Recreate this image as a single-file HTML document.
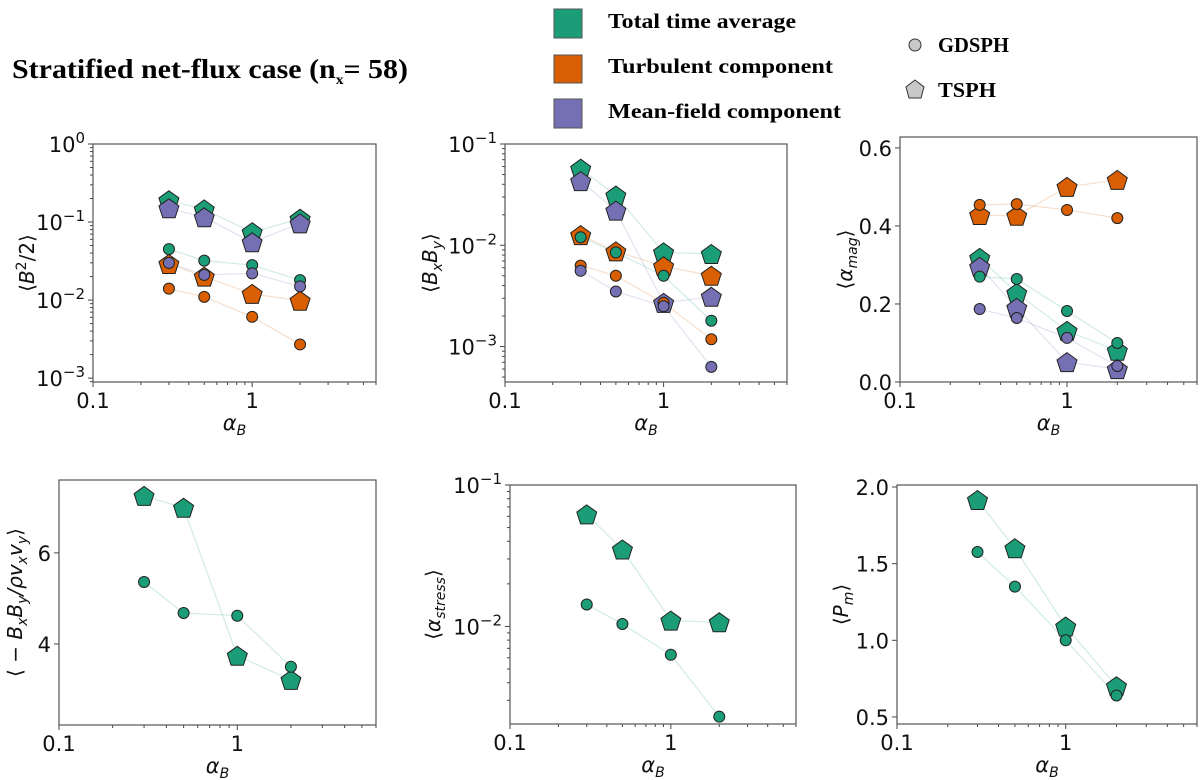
<!DOCTYPE html>
<html><head><meta charset="utf-8">
<style>
html,body{margin:0;padding:0;background:#fff;}
svg{display:block;font-family:"DejaVu Sans","Liberation Sans",sans-serif;}
.leg{font-family:"Liberation Serif",serif;font-weight:bold;}
</style></head>
<body>
<svg id="fig" width="1200" height="780" viewBox="0 0 1200 780" xmlns="http://www.w3.org/2000/svg">
  <text class="leg" x="12" y="78" font-size="27" textLength="396" lengthAdjust="spacingAndGlyphs">Stratified net-flux case (n<tspan font-size="14" dy="6">x</tspan><tspan dy="-6">= 58)</tspan></text>
  <g>
    <rect x="554" y="9" width="28" height="29" fill="#1b9e77" stroke="#555" stroke-width="1"/>
    <text class="leg" x="608" y="28" font-size="21" textLength="188" lengthAdjust="spacingAndGlyphs">Total time average</text>
    <rect x="554" y="55" width="28" height="28" fill="#d95f02" stroke="#555" stroke-width="1"/>
    <text class="leg" x="608" y="73" font-size="21" textLength="225" lengthAdjust="spacingAndGlyphs">Turbulent component</text>
    <rect x="554" y="99" width="28" height="29" fill="#7570b3" stroke="#555" stroke-width="1"/>
    <text class="leg" x="608" y="118" font-size="21" textLength="233" lengthAdjust="spacingAndGlyphs">Mean-field component</text>
    <circle cx="915" cy="45" r="6" fill="#c8c8c8" stroke="#333" stroke-width="1"/>
    <text class="leg" x="938" y="52" font-size="21" textLength="71" lengthAdjust="spacingAndGlyphs">GDSPH</text>
    <polygon points="915,80 924,87 921,98 909,98 906,87" fill="#c8c8c8" stroke="#333" stroke-width="1"/>
    <text class="leg" x="938" y="97" font-size="21" textLength="58" lengthAdjust="spacingAndGlyphs">TSPH</text>
  </g>
</svg>
<script>
const xVals = [0.3, 0.5, 1, 2];
// Panel 1: <B^2/2>
const p1TotT = [0.19, 0.145, 0.074, 0.11];
const p1MeanT = [0.15, 0.115, 0.055, 0.096];
const p1TurbT = [0.029, 0.020, 0.012, 0.0098];
const p1TotG = [0.045, 0.032, 0.028, 0.018];
const p1MeanG = [0.030, 0.021, 0.022, 0.015];
const p1TurbG = [0.014, 0.011, 0.0061, 0.0027];
// Panel 2: <BxBy>
const p2TotT = [0.057, 0.031, 0.0085, 0.0082];
const p2MeanT = [0.043, 0.022, 0.0027, 0.0031];
const p2TurbT = [0.0126, 0.0087, 0.0062, 0.0050];
const p2TotG = [0.012, 0.0085, 0.0050, 0.0018];
const p2MeanG = [0.0056, 0.0035, 0.0025, 0.00063];
const p2TurbG = [0.0063, 0.0050, 0.0027, 0.00118];
// Panel 3: <alpha_mag>
const p3TotT = [0.318, 0.228, 0.131, 0.080];
const p3MeanT = [0.295, 0.19, 0.051, 0.033];
const p3TurbT = [0.428, 0.426, 0.50, 0.518];
const p3TotG = [0.27, 0.264, 0.182, 0.10];
const p3MeanG = [0.187, 0.164, 0.113, 0.041];
const p3TurbG = [0.454, 0.456, 0.441, 0.42];
// Panel 4
const p4TotT = [7.25, 6.99, 3.74, 3.21];
const p4TotG = [5.36, 4.68, 4.62, 3.5];
// Panel 5
const p5TotT = [0.062, 0.035, 0.011, 0.0107];
const p5TotG = [0.0143, 0.0104, 0.0063, 0.0023];
// Panel 6
const p6TotT = [1.915, 1.60, 1.09, 0.70];
const p6TotG = [1.576, 1.35, 1.0, 0.64];
// tick labels
const logTicks1 = [0, -1, -2, -3];
const logTicks2 = [-1, -2, -3];
const linTicks3 = [0.0, 0.2, 0.4, 0.6];
const linTicks4 = [4, 6];
const logTicks5 = [-1, -2];
const linTicks6 = [0.5, 1.0, 1.5, 2.0];
const xTickLabels = ["0.1", "1"];

const C = {tot:"#1b9e77", turb:"#d95f02", mean:"#7570b3"};
const NS = "http://www.w3.org/2000/svg";
const fig = document.getElementById('fig');
function mk(tag, attrs, parent){
  const e = document.createElementNS(NS, tag);
  for (const k in attrs) e.setAttribute(k, attrs[k]);
  parent.appendChild(e);
  return e;
}

function panel(cfg){
  const g = mk('g', {}, fig);
  
  
  const L=cfg.L, R=cfg.R, T=cfg.T, B=cfg.B;
  const xmin=Math.log10(0.1), xmax=Math.log10(cfg.xmaxV);
  const sx = v => L + (Math.log10(v)-xmin)/(xmax-xmin)*(R-L);
  let sy;
  if (cfg.logy) {
    const a=Math.log10(cfg.ymin), b=Math.log10(cfg.ymax);
    sy = v => B - (Math.log10(v)-a)/(b-a)*(B-T);
  } else {
    sy = v => B - (v-cfg.ymin)/(cfg.ymax-cfg.ymin)*(B-T);
  }
  for (let d=-1; d<=0; d++){
    for (let m=1; m<=9; m++){
      const v = m*Math.pow(10,d);
      if (v > cfg.xmaxV) break;
      const x = sx(v);
      const tk = mk('line', {x1:x, x2:x, y1:B, y2:B+(m===1?5:3), stroke:'#444', 'stroke-width':1}, g);
      
      
    }
  }
  xTickLabels.forEach(lbl=>{
    const t = mk('text', {x:sx(parseFloat(lbl)), y:B+26, 'font-size':21, 'text-anchor':'middle', fill:'#111'}, g);
    t.textContent = lbl;
    
    
  });
  if (cfg.logy){
    const a=Math.floor(Math.log10(cfg.ymin)), b=Math.ceil(Math.log10(cfg.ymax));
    for (let d=a; d<=b; d++){
      for (let m=1; m<=9; m++){
        const v = m*Math.pow(10,d);
        if (v < cfg.ymin*0.999 || v > cfg.ymax*1.001) continue;
        const y = sy(v);
        const tk = mk('line', {x1:L-(m===1?5:3), x2:L, y1:y, y2:y, stroke:'#444', 'stroke-width':1}, g);
        
        
      }
    }
    cfg.yticks.forEach(e=>{
      const y = sy(Math.pow(10,e));
      const t = mk('text', {x:L-8, y:y+8, 'font-size':21, 'text-anchor':'end', fill:'#111'}, g);
      
      
      const s1 = mk('tspan', {}, t); s1.textContent = '10';
      const s2 = mk('tspan', {dy:-9, 'font-size':15}, t); s2.textContent = e===0 ? '0' : '\u2212' + Math.abs(e);
    });
  } else {
    cfg.yticks.forEach(v=>{
      const y = sy(v);
      const tk = mk('line', {x1:L-5, x2:L, y1:y, y2:y, stroke:'#444', 'stroke-width':1}, g);
      
      
      const t = mk('text', {x:L-8, y:y+8, 'font-size':21, 'text-anchor':'end', fill:'#111'}, g);
      t.textContent = v.toFixed(cfg.dec);
      
      
    });
  }
  const fr = mk('rect', {x:L, y:T, width:R-L, height:B-T, fill:'none', stroke:'#555', 'stroke-width':1.2}, g);
  
  
  const xl = mk('text', {x:(L+R)/2, y:B+48, 'font-size':21, 'text-anchor':'middle', 'font-style':'italic', fill:'#111'}, g);
  
  
  const xa = mk('tspan', {}, xl); xa.textContent = '\u03b1';
  const xb = mk('tspan', {dy:5, 'font-size':14}, xl); xb.textContent = 'B';
  const yl = mk('text', {transform:`translate(${cfg.ylx},${(T+B)/2}) rotate(-90)`, 'font-size':20, 'text-anchor':'middle', fill:'#111'}, g);
  
  
  cfg.ylab.forEach(p=>{
    const ts = mk('tspan', p.sub ? {dy:p.dy, 'font-size':14, 'font-style':'italic'} : (p.sup ? {dy:p.dy,'font-size':14} : {dy:p.dy||0, 'font-style':p.it?'italic':'normal'}), yl);
    ts.textContent = p.t;
  });
  cfg.series.forEach(s=>{
    const pts = s.v.map((v,i)=>sx(xVals[i])+','+sy(v)).join(' ');
    const pl = mk('polyline', {points:pts, fill:'none', stroke:s.c, 'stroke-opacity':0.2, 'stroke-width':1.2}, g);
    
    
  });
  const order = cfg.series.filter(s=>s.m==='p').concat(cfg.series.filter(s=>s.m==='c'));
  order.forEach(s=>{
    s.v.forEach((v,i)=>{
      const x = sx(xVals[i]), y = sy(v);
      let el;
      if (s.m==='p'){
        const r=10.5; const pts=[];
        for (let k=0;k<5;k++){ const a=-Math.PI/2+k*2*Math.PI/5; pts.push((x+r*Math.cos(a)).toFixed(1)+','+(y+r*Math.sin(a)+1).toFixed(1)); }
        el = mk('polygon', {points:pts.join(' '), fill:s.c, stroke:'#222', 'stroke-width':1}, g);
      } else {
        el = mk('circle', {cx:x, cy:y, r:5.5, fill:s.c, stroke:'#222', 'stroke-width':1}, g);
      }
      
      
    });
  });
}

const six = (a,b,c,d,e,f)=>[
  {n:'total-tsph', c:C.tot, m:'p', v:a},
  {n:'turbulent-tsph', c:C.turb, m:'p', v:c},
  {n:'mean-field-tsph', c:C.mean, m:'p', v:b},
  {n:'total-gdsph', c:C.tot, m:'c', v:d},
  {n:'turbulent-gdsph', c:C.turb, m:'c', v:f},
  {n:'mean-field-gdsph', c:C.mean, m:'c', v:e}
];

panel({name:'panel-b2', L:93, R:376, T:144, B:382, xmaxV:6.0, logy:true, ymin:Math.pow(10,-3.05), ymax:1.0, yticks:logTicks1, ylx:34,
  ylab:[{t:'\u27e8'},{t:'B',it:true},{t:'2',sup:true,dy:-8},{t:'/2\u27e9',dy:8}],
  series:six(p1TotT,p1MeanT,p1TurbT,p1TotG,p1MeanG,p1TurbG)});
panel({name:'panel-bxby', L:505, R:787, T:144, B:382, xmaxV:6.0, logy:true, ymin:Math.pow(10,-3.35), ymax:0.1, yticks:logTicks2, ylx:437,
  ylab:[{t:'\u27e8'},{t:'B',it:true},{t:'x',sub:true,dy:5},{t:'B',it:true,dy:-5},{t:'y',sub:true,dy:5},{t:'\u27e9',dy:-5}],
  series:six(p2TotT,p2MeanT,p2TurbT,p2TotG,p2MeanG,p2TurbG)});
panel({name:'panel-alpha-mag', L:900, R:1197, T:137, B:382, xmaxV:6.0, logy:false, ymin:0, ymax:0.628, yticks:linTicks3, dec:1, ylx:852,
  ylab:[{t:'\u27e8'},{t:'\u03b1',it:true},{t:'mag',sub:true,dy:5},{t:'\u27e9',dy:-5}],
  series:six(p3TotT,p3MeanT,p3TurbT,p3TotG,p3MeanG,p3TurbG)});
panel({name:'panel-ratio', L:59, R:376, T:480, B:725, xmaxV:6.0, logy:false, ymin:2.22, ymax:7.6, yticks:linTicks4, dec:0, ylx:22,
  ylab:[{t:'\u27e8 \u2212 '},{t:'B',it:true},{t:'x',sub:true,dy:5},{t:'B',it:true,dy:-5},{t:'y',sub:true,dy:5},{t:'/\u03c1v',it:true,dy:-5},{t:'x',sub:true,dy:5},{t:'v',it:true,dy:-5},{t:'y',sub:true,dy:5},{t:'\u27e9',dy:-5}],
  series:[{n:'total-tsph',c:C.tot,m:'p',v:p4TotT},{n:'total-gdsph',c:C.tot,m:'c',v:p4TotG}]});
panel({name:'panel-alpha-stress', L:510, R:796, T:485, B:724, xmaxV:6.0, logy:true, ymin:Math.pow(10,-2.69), ymax:0.1, yticks:logTicks5, ylx:440,
  ylab:[{t:'\u27e8'},{t:'\u03b1',it:true},{t:'stress',sub:true,dy:5},{t:'\u27e9',dy:-5}],
  series:[{n:'total-tsph',c:C.tot,m:'p',v:p5TotT},{n:'total-gdsph',c:C.tot,m:'c',v:p5TotG}]});
panel({name:'panel-pm', L:897, R:1197, T:485, B:724, xmaxV:6.0, logy:false, ymin:0.454, ymax:2.013, yticks:linTicks6, dec:1, ylx:848,
  ylab:[{t:'\u27e8'},{t:'P',it:true},{t:'m',sub:true,dy:5},{t:'\u27e9',dy:-5}],
  series:[{n:'total-tsph',c:C.tot,m:'p',v:p6TotT},{n:'total-gdsph',c:C.tot,m:'c',v:p6TotG}]});
</script>
</body></html>
